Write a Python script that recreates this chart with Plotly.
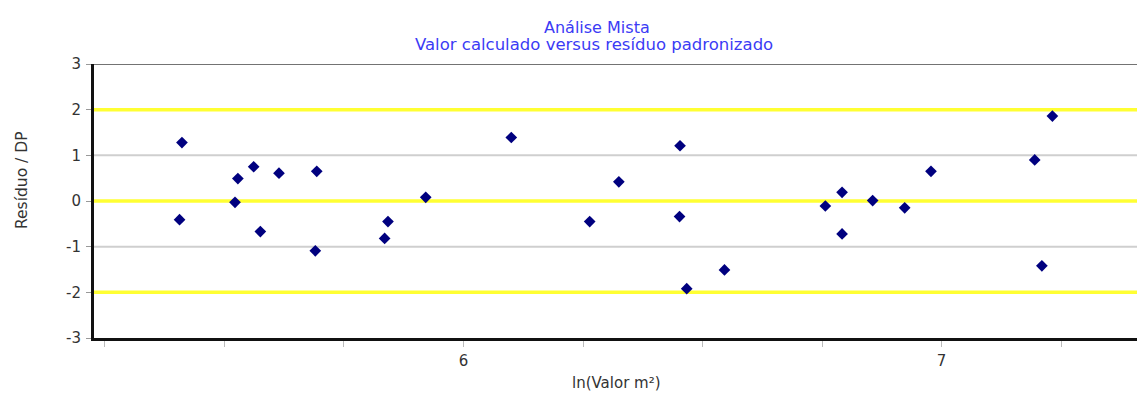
import plotly.graph_objects as go

# Data (ln(Valor m²) vs standardized residual)
x_values = [5.411, 5.406, 5.528, 5.561, 5.522, 5.575, 5.614, 5.693, 5.690, 5.842,
            5.835, 5.921, 6.100, 6.264, 6.325, 6.453, 6.452, 6.467, 6.546, 6.757,
            6.792, 6.792, 6.856, 6.923, 6.978, 7.195, 7.210, 7.232]
residuals = [1.28, -0.41, 0.49, 0.75, -0.03, -0.67, 0.61, 0.65, -1.09, -0.45,
             -0.82, 0.08, 1.39, -0.45, 0.42, 1.21, -0.34, -1.92, -1.51, -0.11,
             0.19, -0.72, 0.01, -0.15, 0.65, 0.90, -1.42, 1.86]

x_tick_vals = [5.25, 5.5, 5.75, 6.0, 6.25, 6.5, 6.75, 7.0, 7.25]
x_tick_text = ["", "", "", "6", "", "", "", "7", ""]
y_tick_vals = [-3, -2, -1, 0, 1, 2, 3]
y_tick_text = ["-3", "-2", "-1", "0", "1", "2", "3"]
yellow_levels = [-2, 0, 2]
gray_levels = [-1, 1]

title_line1 = "Análise Mista"
title_line2 = "Valor calculado versus resíduo padronizado"
x_title = "ln(Valor m²)"
y_title = "Resíduo / DP"

FONT = "DejaVu Sans, Liberation Sans, Arial, sans-serif"
W, H = 1137, 397
ML, MR, MT, MB = 94, 0, 64, 59
PW, PH = W - ML - MR, H - MT - MB


def px_to_paper_x(px):
    return (px - ML) / PW


def px_to_paper_y(py):
    return (H - MB - py) / PH


fig = go.Figure()

shapes = []
for lv in gray_levels:
    shapes.append(dict(type="line", xref="paper", x0=0, x1=1, yref="y", y0=lv, y1=lv,
                       line=dict(color="#cfcfcf", width=2), layer="below"))
for lv in yellow_levels:
    shapes.append(dict(type="line", xref="paper", x0=0, x1=1, yref="y", y0=lv, y1=lv,
                       line=dict(color="#ffff33", width=3.5), layer="below"))
# top frame line
shapes.append(dict(type="line", xref="paper", x0=0, x1=1, yref="y", y0=3, y1=3,
                   line=dict(color="#444444", width=1.5), layer="above"))

fig.add_trace(go.Scatter(
    x=x_values, y=residuals, mode="markers",
    marker=dict(symbol="diamond", size=9, color="#00007f"),
    hoverinfo="x+y", showlegend=False,
))

annotations = [
    dict(text=title_line1, x=px_to_paper_x(597), y=px_to_paper_y(27), xref="paper", yref="paper",
         showarrow=False, xanchor="center", yanchor="middle",
         font=dict(family=FONT, size=16, color="#3b3bf5")),
    dict(text=title_line2, x=px_to_paper_x(594), y=px_to_paper_y(44), xref="paper", yref="paper",
         showarrow=False, xanchor="center", yanchor="middle",
         font=dict(family=FONT, size=16.5, color="#3b3bf5")),
    dict(text=x_title, x=px_to_paper_x(616), y=px_to_paper_y(383), xref="paper", yref="paper",
         showarrow=False, xanchor="center", yanchor="middle",
         font=dict(family=FONT, size=15, color="#333333")),
    dict(text=y_title, x=px_to_paper_x(22), y=px_to_paper_y(180), xref="paper", yref="paper",
         showarrow=False, xanchor="center", yanchor="middle", textangle=-90,
         font=dict(family=FONT, size=15.5, color="#333333")),
]

fig.update_layout(
    width=W, height=H,
    margin=dict(l=ML, r=MR, t=MT, b=MB, pad=0),
    paper_bgcolor="white", plot_bgcolor="white",
    shapes=shapes, annotations=annotations,
    font=dict(family=FONT, size=15, color="#333333"),
    xaxis=dict(
        range=[5.227, 7.409], tickmode="array", tickvals=x_tick_vals, ticktext=x_tick_text,
        showgrid=False, zeroline=False, showline=True, linecolor="#111111", linewidth=3,
        ticks="outside", ticklen=6, tickwidth=1, tickcolor="#bbbbbb",
        ticklabelstandoff=1, tickfont=dict(family=FONT, size=15, color="#333333"),
    ),
    yaxis=dict(
        range=[-3, 3], tickmode="array", tickvals=y_tick_vals, ticktext=y_tick_text,
        showgrid=False, zeroline=False, showline=True, linecolor="#111111", linewidth=3,
        ticks="outside", ticklen=5, tickwidth=1, tickcolor="#999999",
        ticklabelstandoff=2, tickfont=dict(family=FONT, size=15, color="#333333"),
    ),
)

fig.write_html(
    "out.html",
    config={"displayModeBar": False},
    post_script="document.body.style.margin='0';document.body.style.overflow='hidden';",
)
